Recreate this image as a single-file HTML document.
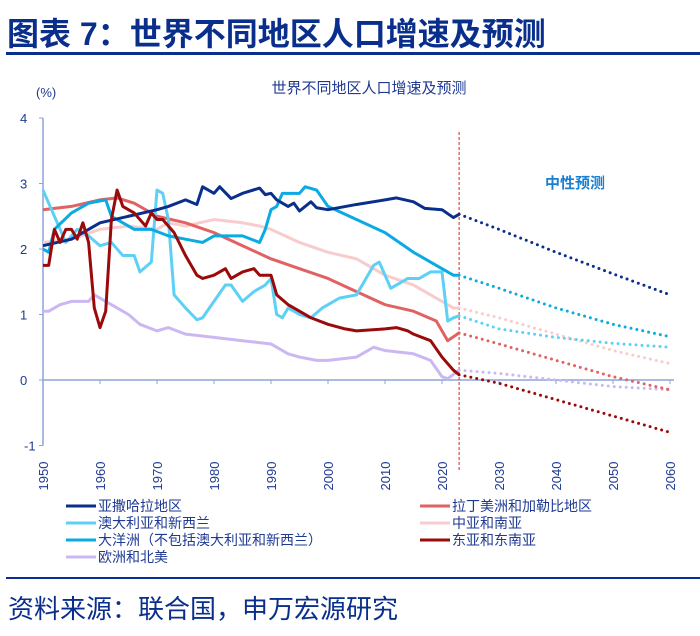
<!DOCTYPE html>
<html><head><meta charset="utf-8">
<style>
body{margin:0;background:#fff;width:700px;height:631px;overflow:hidden;font-family:"Liberation Sans","Noto Sans CJK SC",sans-serif;}
</style></head><body>
<svg id="chart" width="700" height="631" xmlns="http://www.w3.org/2000/svg" font-family="Liberation Sans, Noto Sans CJK SC, sans-serif">
<text x="7" y="45" font-size="32" font-weight="bold" fill="#0a2e8c">图表 7：世界不同地区人口增速及预测</text>
<rect x="6" y="52" width="694" height="3" fill="#0a2e8c"/>
<text x="369" y="93" font-size="15" fill="#1f3a93" text-anchor="middle">世界不同地区人口增速及预测</text>
<text x="36" y="97" font-size="13" fill="#1f3a93">(%)</text>
<text x="545" y="188" font-size="15" font-weight="bold" fill="#1a7fd0">中性预测</text>
<g id="axes"></g>
<g id="series"></g>
<g id="legend"></g>
<rect x="6" y="577" width="694" height="2" fill="#0a2e8c"/>
<text x="8" y="618" font-size="26" fill="#0a2e8c">资料来源：联合国，申万宏源研究</text>
</svg>
<script>
const xTicks=[1950,1960,1970,1980,1990,2000,2010,2020,2030,2040,2050,2060];
const yTicks=[-1,0,1,2,3,4];
const ssaYears=[1950,1955,1960,1965,1970,1972,1975,1977,1978,1980,1981,1983,1985,1988,1989,1990,1991,1993,1994,1995,1997,1998,2000,2005,2010,2012,2015,2017,2020,2022,2023];
const ssaVals=[2.05,2.15,2.4,2.5,2.6,2.65,2.75,2.68,2.95,2.85,2.95,2.77,2.85,2.93,2.83,2.85,2.75,2.65,2.7,2.58,2.72,2.63,2.6,2.68,2.75,2.78,2.72,2.62,2.6,2.48,2.53];
const latYears=[1950,1955,1960,1963,1966,1970,1975,1980,1985,1990,1995,2000,2005,2010,2015,2019,2021,2023];
const latVals=[2.6,2.65,2.75,2.78,2.7,2.5,2.4,2.25,2.05,1.85,1.7,1.55,1.35,1.15,1.05,0.9,0.6,0.72];
const anzYears=[1950,1952,1954,1956,1958,1960,1962,1964,1966,1967,1969,1970,1971,1972,1973,1975,1977,1978,1980,1982,1983,1985,1987,1989,1990,1991,1992,1993,1995,1997,1999,2002,2005,2008,2009,2011,2012,2014,2016,2018,2020,2021,2022,2023];
const anzVals=[2.9,2.5,2.1,2.3,2.2,2.05,2.1,1.9,1.9,1.65,1.8,2.9,2.85,2.45,1.3,1.1,0.92,0.95,1.2,1.45,1.45,1.2,1.35,1.45,1.55,1.0,0.95,1.1,1.0,0.95,1.1,1.25,1.3,1.75,1.8,1.4,1.45,1.55,1.55,1.65,1.65,0.9,0.95,0.98];
const oceYears=[1950,1951,1952,1955,1958,1961,1962,1964,1966,1969,1972,1975,1978,1980,1983,1985,1988,1989,1990,1991,1992,1995,1996,1998,2000,2005,2010,2015,2020,2022,2023];
const oceVals=[2.0,1.95,2.3,2.55,2.7,2.75,2.5,2.4,2.3,2.3,2.2,2.15,2.1,2.2,2.2,2.2,2.1,2.3,2.6,2.65,2.85,2.85,2.95,2.9,2.65,2.45,2.25,1.95,1.7,1.6,1.6];
const csaYears=[1950,1955,1960,1965,1970,1972,1975,1980,1985,1988,1990,1995,2000,2005,2010,2015,2020,2022,2023];
const csaVals=[2.1,2.15,2.3,2.35,2.3,2.4,2.35,2.45,2.4,2.35,2.3,2.1,1.95,1.85,1.6,1.45,1.2,1.1,1.1];
const easYears=[1950,1951,1952,1953,1954,1955,1956,1957,1958,1959,1960,1961,1962,1963,1964,1966,1968,1969,1970,1971,1973,1975,1977,1978,1980,1982,1983,1985,1987,1988,1990,1991,1993,1995,1997,2000,2003,2005,2010,2012,2014,2015,2018,2020,2022,2023];
const easVals=[1.75,1.75,2.3,2.1,2.3,2.3,2.15,2.4,2.1,1.1,0.8,1.05,2.45,2.9,2.65,2.55,2.35,2.55,2.45,2.45,2.25,1.9,1.6,1.55,1.6,1.7,1.55,1.65,1.7,1.6,1.6,1.3,1.15,1.05,0.95,0.85,0.78,0.75,0.78,0.8,0.75,0.7,0.6,0.35,0.15,0.08];
const eurYears=[1950,1951,1953,1955,1958,1959,1961,1963,1965,1967,1970,1972,1975,1980,1985,1990,1993,1995,1998,2000,2005,2008,2010,2015,2018,2020,2021,2023];
const eurVals=[1.05,1.05,1.15,1.2,1.2,1.3,1.2,1.1,1.0,0.85,0.75,0.8,0.7,0.65,0.6,0.55,0.4,0.35,0.3,0.3,0.35,0.5,0.45,0.4,0.3,0.05,0.02,0.15];
const projYears=[2023,2030,2040,2050,2060];
const ssaProj=[2.53,2.3,1.95,1.62,1.3];
const latProj=[0.72,0.55,0.3,0.05,-0.15];
const anzProj=[0.98,0.78,0.65,0.56,0.5];
const oceProj=[1.6,1.4,1.1,0.85,0.66];
const csaProj=[1.1,0.95,0.7,0.45,0.25];
const easProj=[0.08,-0.05,-0.3,-0.55,-0.8];
const eurProj=[0.15,0.1,0.0,-0.1,-0.15];
const cutYear=2023;

const NS="http://www.w3.org/2000/svg";
const X=y=>43+(y-1950)*(627/110);
const Y=v=>380-v*65.5;
function mk(tag,attrs,parent){const e=document.createElementNS(NS,tag);for(const k in attrs)e.setAttribute(k,attrs[k]);parent.appendChild(e);return e;}
const axes=document.getElementById('axes');
const yl=mk('line',{x1:43,y1:Y(4),x2:43,y2:Y(-1),stroke:'#8ea4d8','stroke-width':1.5},axes);


const xl=mk('line',{x1:43,y1:Y(0),x2:X(2060)+4,y2:Y(0),stroke:'#8ea4d8','stroke-width':1.5},axes);


yTicks.forEach(t=>{
  const l=mk('line',{x1:39,y1:Y(t),x2:43,y2:Y(t),stroke:'#8ea4d8','stroke-width':1},axes);
  
  
  const tx=mk('text',{x:t<0?24:20,y:Y(t)+5,'font-size':13,fill:'#1f3a93'},axes);
  tx.textContent=t;
  
  
});
xTicks.forEach(t=>{
  const l=mk('line',{x1:X(t),y1:Y(0),x2:X(t),y2:Y(0)+4,stroke:'#8ea4d8','stroke-width':1},axes);
  
  
  const tx=mk('text',{x:0,y:0,'font-size':13,fill:'#1f3a93','text-anchor':'middle',transform:`translate(${X(t)+5},476) rotate(-90)`},axes);
  tx.textContent=t;
  
  
});
const cut=mk('line',{x1:X(cutYear),y1:132,x2:X(cutYear),y2:470,stroke:'#e02020','stroke-width':1,'stroke-dasharray':'3,2'},axes);



const series=[
 ['sub-saharan-africa','#0a2e8c',ssaYears,ssaVals,ssaProj,'亚撒哈拉地区'],
 ['latin-america','#e06262',latYears,latVals,latProj,'拉丁美洲和加勒比地区'],
 ['australia-nz','#5dd0f5',anzYears,anzVals,anzProj,'澳大利亚和新西兰'],
 ['central-south-asia','#f8cccc',csaYears,csaVals,csaProj,'中亚和南亚'],
 ['oceania-excl','#0aaae2',oceYears,oceVals,oceProj,'大洋洲（不包括澳大利亚和新西兰）'],
 ['east-se-asia','#9b0a0a',easYears,easVals,easProj,'东亚和东南亚'],
 ['europe-na','#cbb8f2',eurYears,eurVals,eurProj,'欧洲和北美']
];
const sg=document.getElementById('series');
const order=[6,3,1,2,4,0,5];
order.forEach(i=>{
  const [n,c,ys,vs,pv]=series[i];
  const p=mk('polyline',{points:ys.map((y,j)=>X(y)+','+Y(vs[j])).join(' '),fill:'none',stroke:c,'stroke-width':3,'stroke-linejoin':'round'},sg);
  
  
  const q=mk('polyline',{points:projYears.map((y,j)=>X(y)+','+Y(pv[j])).join(' '),fill:'none',stroke:c,'stroke-width':3,'stroke-linecap':'round','stroke-dasharray':'0,6'},sg);
  
  
});
const lg=document.getElementById('legend');
const pos=[[66,506],[420,506],[66,523],[420,523],[66,540],[420,540],[66,557]];
series.forEach((s,k)=>{
  const [n,c,,,,lab]=s;const [x,y]=pos[k];
  const g=mk('g',{},lg);
  
  
  mk('line',{x1:x,y1:y,x2:x+30,y2:y,stroke:c,'stroke-width':3},g);
  const t=mk('text',{x:x+32,y:y+5,'font-size':14,fill:'#1f3a93'},g);
  t.textContent=lab;
});
</script>
</body></html>
